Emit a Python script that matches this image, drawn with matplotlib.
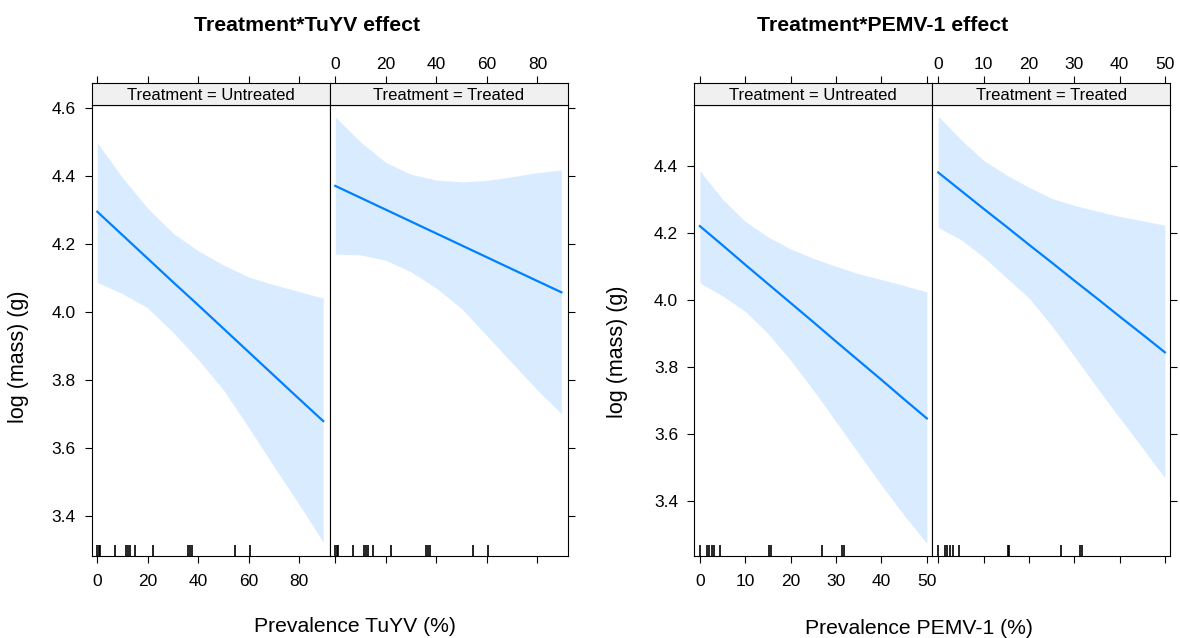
import matplotlib
matplotlib.use("Agg")
import matplotlib.pyplot as plt
from matplotlib.transforms import blended_transform_factory

plt.rcParams['font.family'] = ['Liberation Sans', 'DejaVu Sans']

# ---- data -----------------------------------------------------------------
TUYV_X = [0, 10, 20, 30, 40, 50, 60, 70, 80, 89.5]
TUYV_UNTREATED_FIT = [4.295, 4.226, 4.157, 4.088, 4.020, 3.951, 3.882, 3.813, 3.744, 3.679]
TUYV_UNTREATED_HI = [4.498, 4.395, 4.305, 4.232, 4.180, 4.138, 4.103, 4.080, 4.060, 4.041]
TUYV_UNTREATED_LO = [4.087, 4.054, 4.012, 3.940, 3.860, 3.770, 3.660, 3.545, 3.433, 3.323]
TUYV_TREATED_FIT = [4.371, 4.336, 4.301, 4.266, 4.231, 4.196, 4.161, 4.126, 4.091, 4.058]
TUYV_TREATED_HI = [4.574, 4.500, 4.440, 4.405, 4.388, 4.383, 4.387, 4.398, 4.410, 4.418]
TUYV_TREATED_LO = [4.170, 4.168, 4.152, 4.118, 4.070, 4.010, 3.930, 3.850, 3.770, 3.701]
TUYV_RUG = [0, 0.5, 1.0, 7.2, 11.2, 12.1, 12.9, 15.1, 22.0, 35.8, 36.6, 37.5, 54.7, 60.5]

PEMV_X = [0, 5, 10, 15, 20, 25, 30, 35, 40, 45, 50]
PEMV_UNTREATED_FIT = [4.220, 4.163, 4.105, 4.048, 3.991, 3.934, 3.876, 3.819, 3.762, 3.704, 3.647]
PEMV_UNTREATED_HI = [4.385, 4.300, 4.234, 4.188, 4.152, 4.124, 4.100, 4.078, 4.061, 4.043, 4.024]
PEMV_UNTREATED_LO = [4.051, 4.012, 3.966, 3.900, 3.820, 3.731, 3.637, 3.542, 3.448, 3.358, 3.275]
PEMV_TREATED_FIT = [4.380, 4.326, 4.272, 4.219, 4.165, 4.112, 4.058, 4.005, 3.951, 3.898, 3.844]
PEMV_TREATED_HI = [4.548, 4.478, 4.416, 4.373, 4.336, 4.303, 4.282, 4.265, 4.249, 4.236, 4.223]
PEMV_TREATED_LO = [4.216, 4.180, 4.128, 4.067, 4.006, 3.924, 3.833, 3.739, 3.649, 3.560, 3.470]
PEMV_RUG = [0, 1.5, 2.0, 2.6, 3.2, 4.5, 15.3, 15.7, 27.0, 31.3, 31.8]

STRIP_LABELS = ["Treatment = Untreated", "Treatment = Treated"]

LINE_COL = "#0080ff"
BAND_COL = "#d9ecff"
STRIP_COL = "#f0f0f0"

W, H = 1180, 638
fig = plt.figure(figsize=(W / 100, H / 100), dpi=100)


def px_axes(x0, x1, y0, y1):
    """Axes from pixel box (y measured from the top)."""
    return fig.add_axes([x0 / W, 1 - y1 / H, (x1 - x0) / W, (y1 - y0) / H])


def effect_plot(xs, panels, rug, xlim, ylim, xticks, yticks, ytick_fmt,
                x_left, x_mid, x_right, title, title_x, xlabel, xlabel_x,
                xlabel_y, ylabel_x, ylabel_y):
    top, bottom, strip_top = 105, 556, 83
    bounds = [(x_left, x_mid), (x_mid, x_right)]
    for i, ((fit, hi, lo), (a, b)) in enumerate(zip(panels, bounds)):
        ax = px_axes(a, b, top, bottom)
        ax.fill_between(xs, lo, hi, color=BAND_COL, lw=0)
        ax.plot(xs, fit, color=LINE_COL, lw=1.6)
        trans = blended_transform_factory(ax.transData, ax.transAxes)
        ax.vlines(rug, 0, 0.024, transform=trans, color="black", lw=1.2)
        ax.set_xlim(*xlim)
        ax.set_ylim(*ylim)
        ax.set_xticks(xticks)
        ax.set_yticks(yticks)
        ax.tick_params(direction="out", length=5, width=0.8, labelsize=12.5,
                       colors="black")
        ax.tick_params(axis="x", pad=8)
        ax.tick_params(axis="y", pad=6.5)
        if i == 0:
            ax.set_yticklabels([ytick_fmt.format(v) for v in yticks])
        else:
            ax.yaxis.tick_right()
            ax.set_yticklabels([])
            ax.set_xticklabels([])
        for s in ax.spines.values():
            s.set_linewidth(0.8)

        st = px_axes(a, b, strip_top, top)
        st.set_facecolor(STRIP_COL)
        st.set_xlim(*xlim)
        st.set_ylim(0, 1)
        st.set_yticks([])
        st.xaxis.tick_top()
        st.set_xticks(xticks)
        st.tick_params(direction="out", length=5, width=0.8, labelsize=12.5,
                       pad=3, colors="black")
        if i == 0:
            st.set_xticklabels([])
        for s in st.spines.values():
            s.set_linewidth(0.8)
        st.text(0.5, 0.45, STRIP_LABELS[i], transform=st.transAxes,
                ha="center", va="center", fontsize=12)

    fig.text(title_x / W, 1 - 31 / H, title, ha="center", va="baseline",
             fontsize=15.3, fontweight="bold")
    fig.text(xlabel_x / W, 1 - xlabel_y / H, xlabel, ha="center",
             va="baseline", fontsize=15.2)
    fig.text(ylabel_x / W, 1 - ylabel_y / H, "log (mass) (g)", ha="center",
             va="center", rotation=90, fontsize=15.5)


effect_plot(
    TUYV_X,
    [(TUYV_UNTREATED_FIT, TUYV_UNTREATED_HI, TUYV_UNTREATED_LO),
     (TUYV_TREATED_FIT, TUYV_TREATED_HI, TUYV_TREATED_LO)],
    TUYV_RUG, (-2.3, 92), (3.282, 4.609), [0, 20, 40, 60, 80],
    [3.4, 3.6, 3.8, 4.0, 4.2, 4.4, 4.6], "{:.1f}",
    91.5, 329.5, 567.7, "Treatment*TuYV effect", 307,
    "Prevalence TuYV (%)", 355, 631.5, 19, 357,
)

effect_plot(
    PEMV_X,
    [(PEMV_UNTREATED_FIT, PEMV_UNTREATED_HI, PEMV_UNTREATED_LO),
     (PEMV_TREATED_FIT, PEMV_TREATED_HI, PEMV_TREATED_LO)],
    PEMV_RUG, (-1.3, 51.2), (3.237, 4.581), [0, 10, 20, 30, 40, 50],
    [3.4, 3.6, 3.8, 4.0, 4.2, 4.4], "{:.1f}",
    694, 932.3, 1170.3, "Treatment*PEMV-1 effect", 883,
    "Prevalence PEMV-1 (%)", 919, 634, 618, 352,
)

fig.savefig("out.png", dpi=100)
